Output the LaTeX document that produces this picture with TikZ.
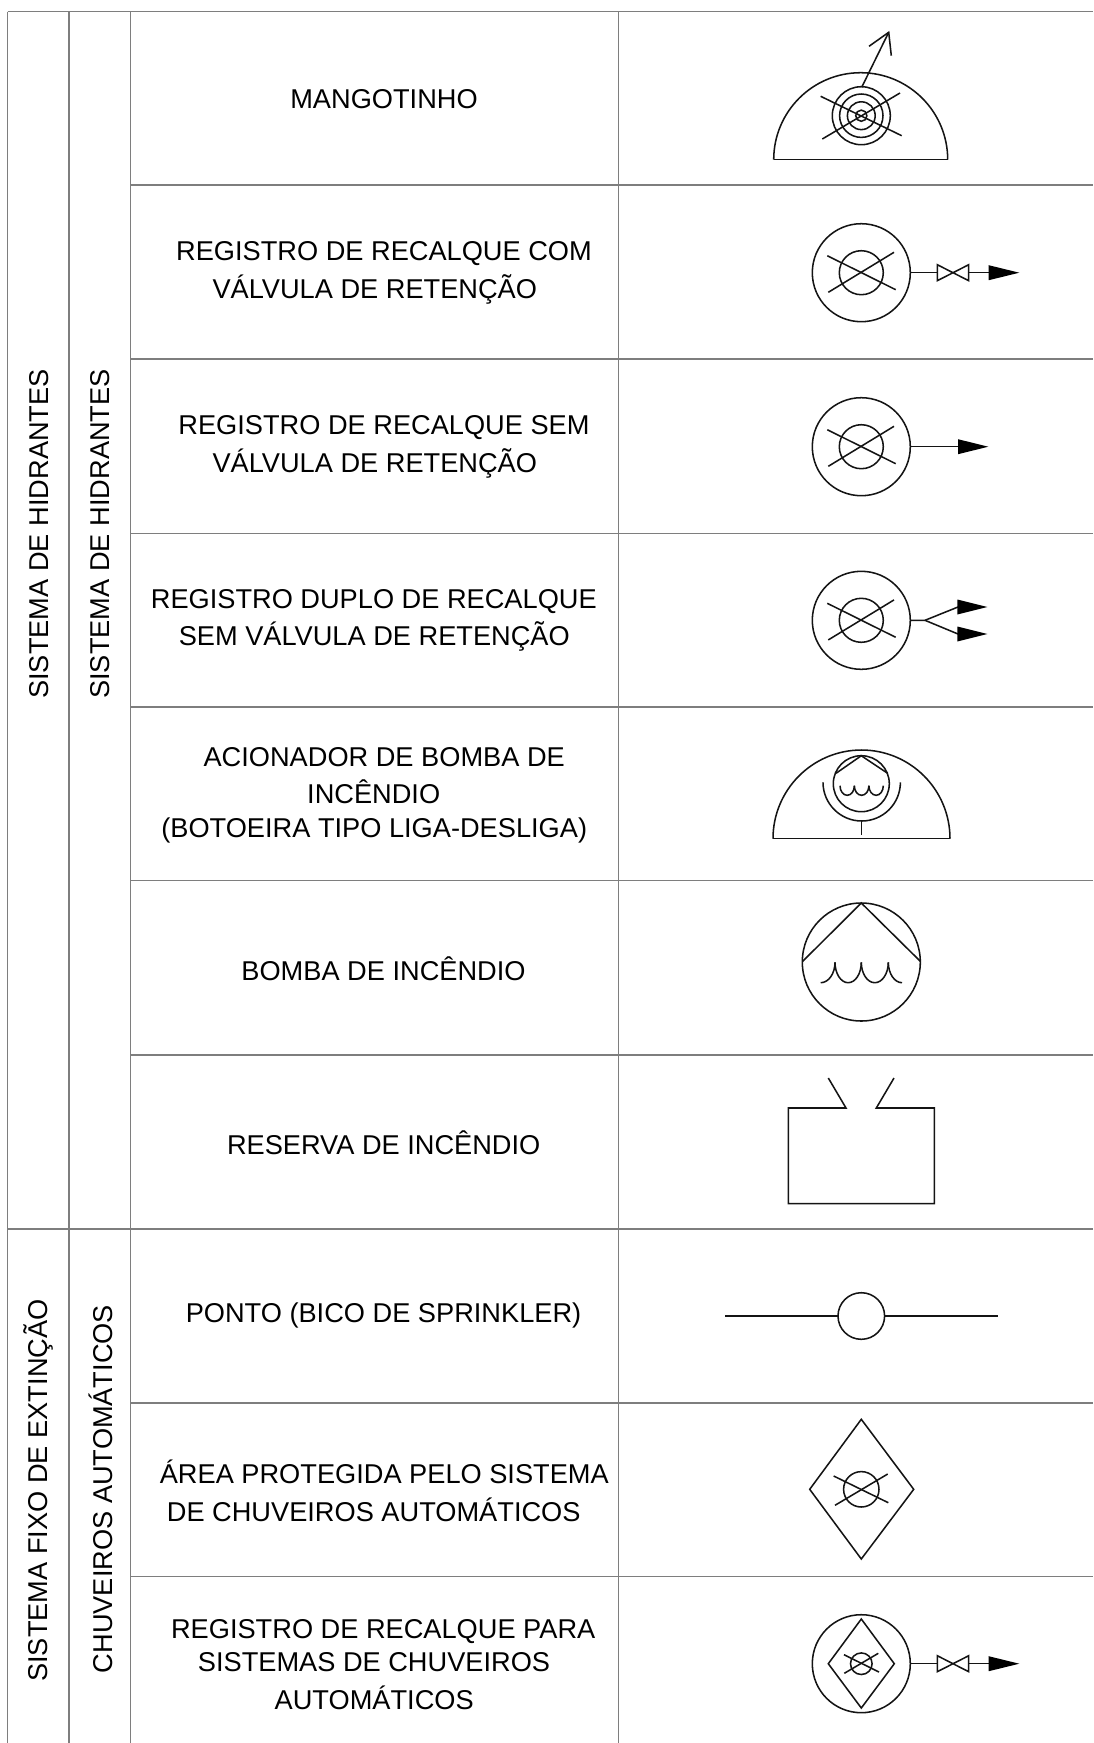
\documentclass[tikz,border=0pt]{standalone}
\usepackage{fontspec}
\setmainfont{Liberation Sans}
\definecolor{rule}{HTML}{7E7E7E}
\tikzset{
  sym/.style={draw=black!92,line width=1.15pt,line join=miter},
  grid/.style={draw=rule,line width=1pt},
  lbl/.style={anchor=base,inner sep=0pt,font=\fontsize{20.4}{24}\selectfont,text=black},
  side/.style={anchor=base,rotate=90,inner sep=0pt,font=\fontsize{20.4}{24}\selectfont,text=black},
  head/.style={fill=black,draw=none},
}
\newcommand\halfell[4]{\draw[sym] ({#1-#3},#2) .. controls ({#1-#3},{#2+.5523*#4}) and ({#1-.5523*#3},{#2+#4}) .. (#1,{#2+#4}) .. controls ({#1+.5523*#3},{#2+#4}) and ({#1+#3},{#2+.5523*#4}) .. ({#1+#3},#2);}
\newcommand\valvesym[1]{\draw[sym] (937.3,{#1-8}) -- (968.7,{#1+8}) -- (968.7,{#1-8}) -- (937.3,{#1+8}) -- cycle;}
\newcommand\arrowhd[3]{\fill[head] (#1,{#3-7.5}) -- (#2,#3) -- (#1,{#3+7.5}) -- cycle;}
\newcommand\regsym[1]{%
  \draw[sym] (861.3,#1) circle[radius=49];
  \draw[sym] (861.3,#1) circle[radius=22];
  \draw[sym] (827.3,{#1-17}) -- (895.7,{#1+17});
  \draw[sym] (828.3,{#1+19.6}) -- (894,{#1-20.4});
}
\begin{document}
\begin{tikzpicture}[x=0.75pt,y=-0.75pt]
\useasboundingbox[fill=white] (0,0) rectangle (1093,1743);
% table rules
\foreach \yy in {185,359,533.5,707,880.5,1055,1403,1576.5}
  \draw[grid] (130.5,\yy) -- (1093,\yy);
\foreach \yy in {11.5,1229}
  \draw[grid] (7.5,\yy) -- (1093,\yy);
\foreach \xx in {7.5,69,130.5,618.3}
  \draw[grid] (\xx,11.5) -- (\xx,1743);
% side labels
\node[side] (s1) at (48.3,534) {SISTEMA DE HIDRANTES};
\node[side] (s2) at (109.3,534) {SISTEMA DE HIDRANTES};
\node[side] (s3) at (47.5,1490.5) {SISTEMA FIXO DE EXTINÇÃO};
\node[side] (s4) at (112.3,1489) {CHUVEIROS AUTOMÁTICOS};
% row labels
\node[lbl] (t1) at (384,108.3) {MANGOTINHO};
\node[lbl] (t2a) at (384,260.7) {REGISTRO DE RECALQUE COM};
\node[lbl] (t2b) at (374.8,298) {VÁLVULA DE RETENÇÃO};
\node[lbl] (t3a) at (384,434.7) {REGISTRO DE RECALQUE SEM};
\node[lbl] (t3b) at (374.8,472) {VÁLVULA DE RETENÇÃO};
\node[lbl] (t4a) at (373.8,608.3) {REGISTRO DUPLO DE RECALQUE};
\node[lbl] (t4b) at (374.3,645.3) {SEM VÁLVULA DE RETENÇÃO};
\node[lbl] (t5a) at (384.2,766.7) {ACIONADOR DE BOMBA DE};
\node[lbl] (t5b) at (373.7,803.3) {INCÊNDIO};
\node[lbl] (t5c) at (374.2,837) {(BOTOEIRA TIPO LIGA-DESLIGA)};
\node[lbl] (t6) at (383.5,980.7) {BOMBA DE INCÊNDIO};
\node[lbl] (t7) at (383.7,1154.1) {RESERVA DE INCÊNDIO};
\node[lbl] (t8) at (383.5,1322.7) {PONTO (BICO DE SPRINKLER)};
\node[lbl] (t9a) at (384.3,1483.4) {ÁREA PROTEGIDA PELO SISTEMA};
\node[lbl] (t9b) at (373.7,1521.2) {DE CHUVEIROS AUTOMÁTICOS};
\node[lbl] (t10a) at (383.2,1638) {REGISTRO DE RECALQUE PARA};
\node[lbl] (t10b) at (374,1671.5) {SISTEMAS DE CHUVEIROS};
\node[lbl] (t10c) at (374.2,1709) {AUTOMÁTICOS};
% row 1: mangotinho
\halfell{860.7}{159.7}{87}{-87}
\draw[sym] (773.7,159.7) -- (947.7,159.7);
\foreach \r in {29,21.7,13.9,5.6}
  \draw[sym] (861.3,115.7) circle[radius=\r];
\draw[sym] (820.7,96.3) -- (901.7,135.7);
\draw[sym] (822.3,139) -- (900,93);
\draw[sym] (861.7,87.3) -- (888.7,32.3);
\draw[sym] (869,46.3) -- (888.7,32.3) -- (891.3,55.7);
% row 2
\regsym{272.7}
\draw[sym] (910.3,272.7) -- (937.3,272.7);
\valvesym{272.7}
\draw[sym] (968.7,272.7) -- (990,272.7);
\arrowhd{988.7}{1019.3}{272.7}
% row 3
\regsym{446.7}
\draw[sym] (910.3,446.7) -- (960,446.7);
\arrowhd{958}{988.3}{446.7}
% row 4
\regsym{620.3}
\draw[sym] (910.3,620.3) -- (925,620.3) -- (958,607);
\draw[sym] (925,620.3) -- (958,634);
\arrowhd{957.3}{987.3}{607}
\arrowhd{957.3}{987.3}{634}
% row 5: acionador
\halfell{861.5}{838.7}{88.5}{-88.7}
\draw[sym] (773,838.7) -- (950,838.7);
\draw[sym] (861.3,783.7) circle[radius=28];
\draw[sym] (836,773.3) -- (861.3,755.7) -- (887.7,773.3);
\halfell{847.2}{785.7}{7.2}{9.6}
\halfell{861.6}{785.7}{7.3}{9.6}
\halfell{876.1}{785.7}{7.2}{9.6}
\halfell{861.7}{782.3}{38.7}{38.7}
\draw[sym] (861.3,820) -- (861.3,835);
% row 6: bomba
\draw[sym] (861.3,962) circle[radius=59];
\draw[sym] (802.7,961.3) -- (861.3,903) -- (920.3,961.3);
\draw[sym] (820.7,982.7) .. controls (828.6,982.7) and (835,973.5) .. (835,962.3);
\halfell{848.15}{962.3}{13.15}{20.4}
\halfell{874.8}{962.3}{13.5}{20.4}
\draw[sym] (902,982.7) .. controls (894.5,982.7) and (888.3,973.5) .. (888.3,962.3);
% row 7: reserva
\draw[sym] (828.3,1078) -- (846,1108) -- (788.3,1108) -- (788.3,1203.7) -- (934.3,1203.7) -- (934.3,1108) -- (876.3,1108) -- (894,1078);
% row 8: ponto
\draw[sym] (725.3,1316) -- (838,1316);
\draw[sym] (884.6,1316) -- (997.7,1316);
\draw[sym] (861.3,1316) circle[radius=23.3];
% row 9: area
\draw[sym] (861.3,1419.3) -- (913.7,1489.3) -- (861.3,1559) -- (809.7,1489.3) -- cycle;
\draw[sym] (861.3,1489.3) circle[radius=17.7];
\draw[sym] (833.7,1476) -- (888.3,1502.7);
\draw[sym] (835,1505.3) -- (887.7,1474);
% row 10
\draw[sym] (861.3,1663.7) circle[radius=49];
\draw[sym] (861.3,1619) -- (894.3,1663.7) -- (861.3,1708) -- (828.3,1663.7) -- cycle;
\draw[sym] (861.3,1663.7) circle[radius=10.8];
\draw[sym] (844,1654.7) -- (879,1672);
\draw[sym] (844.3,1673.3) -- (878.3,1653.3);
\draw[sym] (910.3,1663.7) -- (937.3,1663.7);
\valvesym{1663.7}
\draw[sym] (968.7,1663.7) -- (990,1663.7);
\arrowhd{988.7}{1019.3}{1663.7}
\end{tikzpicture}
\end{document}
